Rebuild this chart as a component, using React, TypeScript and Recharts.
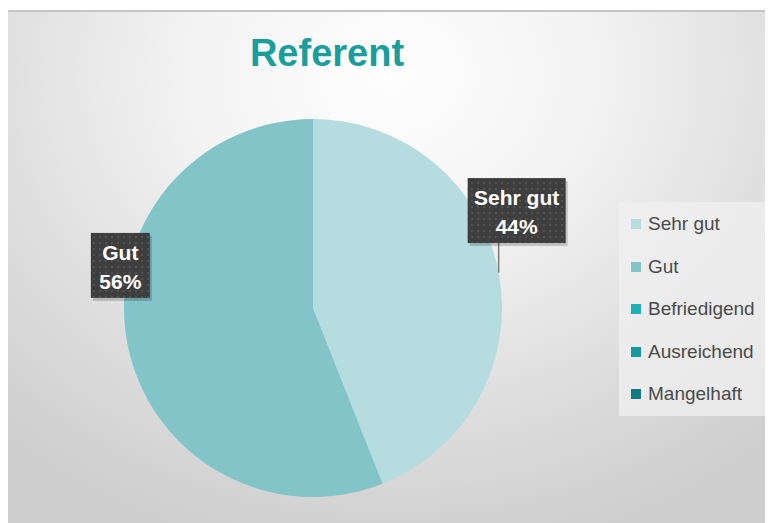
import React from "react";
import { PieChart, Pie, Cell } from "recharts";

const categories = ["Sehr gut", "Gut", "Befriedigend", "Ausreichend", "Mangelhaft"];
const shares = [44, 56, 0, 0, 0];
const colors = ["#b5dcdf", "#82c4c7", "#1fb0b4", "#179a9e", "#147c80"];
const title = "Referent";

const data = categories.map((name, i) => ({ name, value: shares[i] }));

// label box offsets relative to the sector anchor point on the circumference
const labelOffsets: Record<string, { dx: number; dy: number; w: number; h: number; leader: boolean }> = {
  "Sehr gut": { dx: 18, dy: -62, w: 98, h: 65, leader: true },
  Gut: { dx: -7, dy: -78, w: 59, h: 65, leader: false },
};

const RAD = Math.PI / 180;

const renderLabel = (props: any) => {
  const { cx, cy, midAngle, outerRadius, name, percent, value } = props;
  if (!value) return null;
  const o = labelOffsets[name];
  if (!o) return null;
  const ax = cx + outerRadius * Math.cos(-midAngle * RAD);
  const ay = cy + outerRadius * Math.sin(-midAngle * RAD);
  const bx = ax + o.dx;
  const by = ay + o.dy;
  const left = bx - o.w / 2;
  const top = by - o.h / 2;
  return (
    <g>
      {o.leader && (
        <line x1={ax} y1={ay} x2={ax} y2={top + o.h} stroke="#7a7a7a" strokeWidth={1.5} />
      )}
      <rect x={left + 2} y={top + 3} width={o.w} height={o.h} fill="rgba(0,0,0,0.18)" />
      <rect x={left} y={top} width={o.w} height={o.h} fill="url(#dots)" />
      <text
        x={bx}
        y={top + 27}
        textAnchor="middle"
        fill="#ffffff"
        fontSize={21}
        fontWeight="bold"
        fontFamily="'Liberation Sans', Arial, sans-serif"
      >
        {name}
      </text>
      <text
        x={bx}
        y={top + 56}
        textAnchor="middle"
        fill="#ffffff"
        fontSize={21}
        fontWeight="bold"
        fontFamily="'Liberation Sans', Arial, sans-serif"
      >
        {`${Math.round(percent * 100)}%`}
      </text>
    </g>
  );
};

export default function App() {
  return (
    <div
      style={{
        position: "relative",
        width: 766,
        height: 513,
        marginTop: 2,
        marginLeft: -1,
        borderTop: "2px solid #c4c4c4",
        borderRadius: 3,
        background:
          "radial-gradient(ellipse 75% 95% at 50% 12%, #fefefe 0%, #f3f3f3 35%, #dedede 70%, #cecece 100%)",
        overflow: "hidden",
      }}
    >
      <div
        style={{
          position: "absolute",
          left: 0,
          width: 640,
          top: 20,
          textAlign: "center",
          fontFamily: "'Liberation Sans', Arial, sans-serif",
          fontWeight: "bold",
          fontSize: 38,
          color: "#1a9e9b",
        }}
      >
        {title}
      </div>
      <div
        style={{
          position: "absolute",
          left: 612,
          top: 190,
          width: 150,
          height: 214,
          background: "rgba(240,240,240,0.75)",
        }}
      >
        {categories.map((c, i) => (
          <div
            key={c}
            style={{
              position: "absolute",
              left: 12,
              top: 10 + i * 42.5,
              display: "flex",
              alignItems: "center",
              fontFamily: "'Liberation Sans Narrow', 'Liberation Sans', Arial, sans-serif",
              fontSize: 19,
              color: "#4a4a4a",
              height: 24,
            }}
          >
            <span
              style={{
                display: "inline-block",
                width: 10,
                height: 10,
                background: colors[i],
                marginRight: 7,
              }}
            />
            {c}
          </div>
        ))}
      </div>
      <div style={{ position: "absolute", left: 0, top: 0 }}>
        <PieChart width={766} height={513}>
          <defs>
            <pattern id="dots" x={0} y={0} width={6} height={6} patternUnits="userSpaceOnUse">
              <rect x={0} y={0} width={6} height={6} fill="#3e3e3e" />
              <circle cx={3} cy={3} r={1} fill="#585858" />
            </pattern>
          </defs>
          <Pie
            data={data}
            dataKey="value"
            nameKey="name"
            cx={301}
            cy={291}
            outerRadius={189}
            startAngle={90}
            endAngle={-270}
            stroke="none"
            label={renderLabel}
            labelLine={false}
            isAnimationActive={false}
          >
            {data.map((d, i) => (
              <Cell key={d.name} fill={colors[i]} />
            ))}
          </Pie>
        </PieChart>
      </div>
    </div>
  );
}
